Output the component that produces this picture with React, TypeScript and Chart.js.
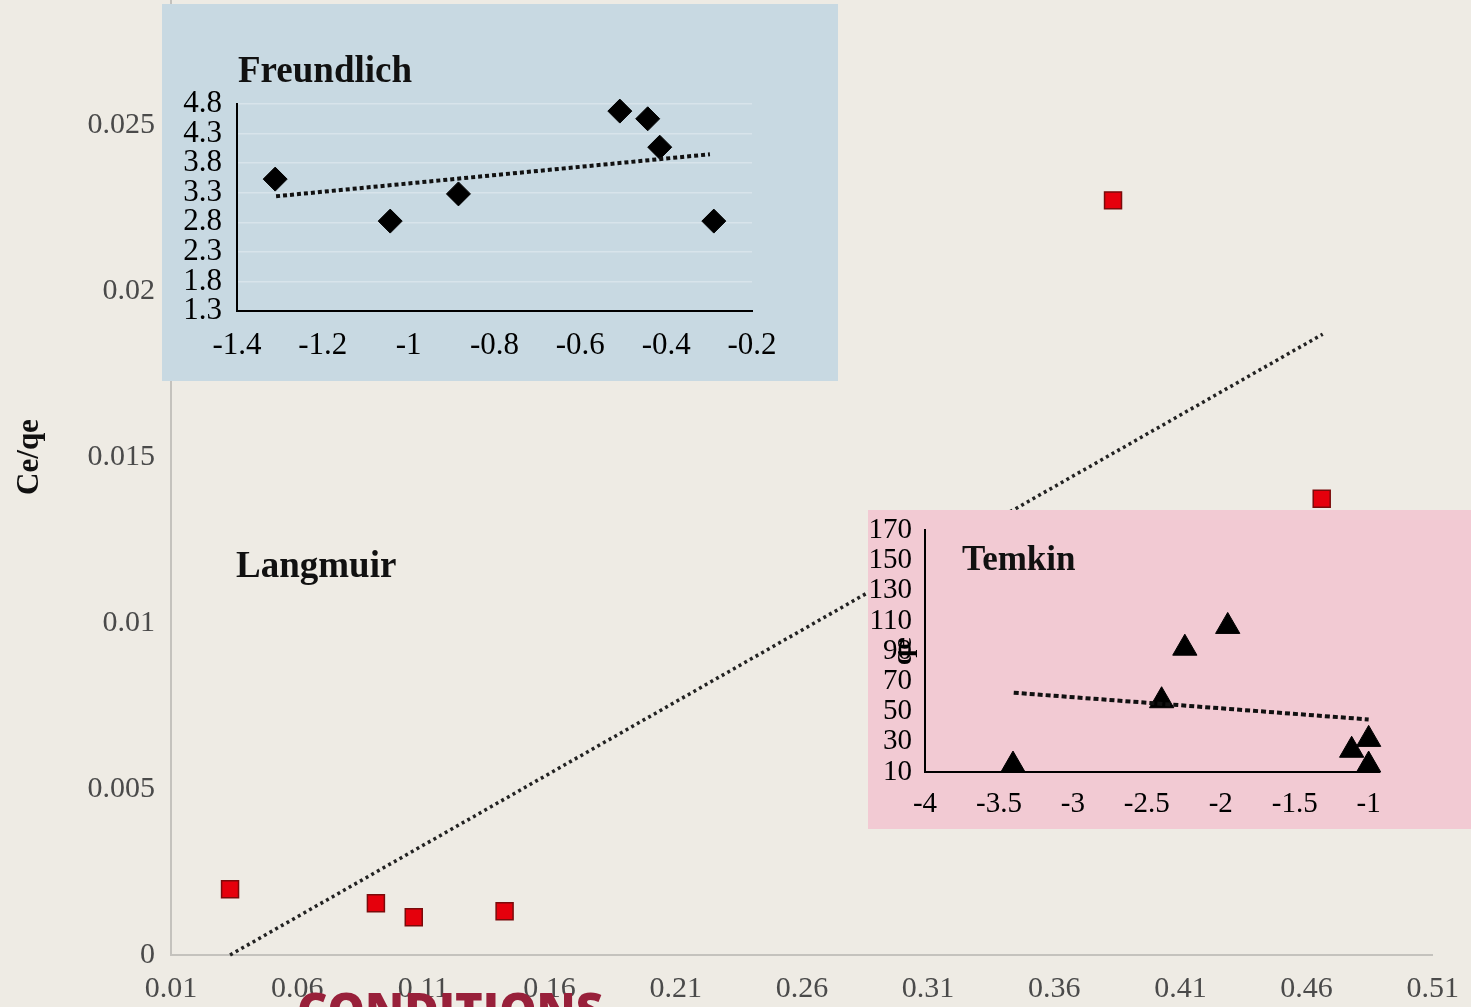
import { useEffect, useRef } from "react";
import { Chart, registerables } from "chart.js";

Chart.register(...registerables);

const SERIF = '"Liberation Serif", "Times New Roman", serif';

// Langmuir isotherm (main plot)
const langmuirX = [0.0334, 0.0912, 0.1062, 0.1422, 0.3833, 0.466];
const langmuirY = [0.00198, 0.00156, 0.00114, 0.00132, 0.02273, 0.01374];
const langmuirTrendX = [0.0334, 0.4664];
const langmuirTrendY = [0.0, 0.0187];
const langmuirXTicks = [0.01, 0.06, 0.11, 0.16, 0.21, 0.26, 0.31, 0.36, 0.41, 0.46, 0.51];
const langmuirYTicks = [0, 0.005, 0.01, 0.015, 0.02, 0.025, 0.03];

// Freundlich isotherm (inset)
const freundlichX = [-1.311, -1.043, -0.884, -0.508, -0.443, -0.415, -0.289];
const freundlichY = [3.53, 2.82, 3.28, 4.68, 4.55, 4.07, 2.82];
const freundlichTrendX = [-1.309, -0.298];
const freundlichTrendY = [3.24, 3.95];
const freundlichXTicks = [-1.4, -1.2, -1, -0.8, -0.6, -0.4, -0.2];
const freundlichYTicks = [1.3, 1.8, 2.3, 2.8, 3.3, 3.8, 4.3, 4.8];

// Temkin isotherm (inset)
const temkinX = [-3.405, -2.4, -2.243, -1.953, -1.115, -1.0, -1.0];
const temkinY = [14.6, 57.2, 92, 106.4, 24.4, 31.6, 14.6];
const temkinTrendX = [-3.4, -1.0];
const temkinTrendY = [62.5, 44.8];
const temkinXTicks = [-4, -3.5, -3, -2.5, -2, -1.5, -1];
const temkinYTicks = [10, 30, 50, 70, 90, 110, 130, 150, 170];

const toPoints = (xs: number[], ys: number[]) => xs.map((x, i) => ({ x, y: ys[i] }));
const fixedTicks = (values: number[]) => (scale: any) => {
  scale.ticks = values.map((value) => ({ value }));
};
const trim = (digits: number) => (v: any) => String(Number(Number(v).toFixed(digits)));

// Draws a bold panel caption at a fixed spot on the canvas
const panelLabel = {
  id: "panelLabel",
  afterDatasetsDraw(chart: any, _args: any, opts: any) {
    if (!opts || !opts.text) return;
    const { ctx } = chart;
    ctx.save();
    ctx.font = `bold ${opts.size}px ${SERIF}`;
    ctx.fillStyle = "#111";
    ctx.textBaseline = "alphabetic";
    ctx.textAlign = "left";
    ctx.fillText(opts.text, opts.x, opts.y);
    ctx.restore();
  },
};
Chart.register(panelLabel);

function useChart(make: (canvas: HTMLCanvasElement) => Chart) {
  const ref = useRef<HTMLCanvasElement | null>(null);
  useEffect(() => {
    if (!ref.current) return;
    const chart = make(ref.current);
    return () => chart.destroy();
  }, []);
  return ref;
}

const MAIN_TOP = -75;
const MAIN_W = 1475;
const MAIN_H = 1082;

function LangmuirChart() {
  const ref = useChart(
    (canvas) =>
      new Chart(canvas, {
        type: "scatter",
        data: {
          datasets: [
            {
              data: toPoints(langmuirTrendX, langmuirTrendY),
              showLine: true,
              borderColor: "#222",
              borderWidth: 3.5,
              borderDash: [3, 3.5],
              pointRadius: 0,
              clip: false,
            },
            {
              data: toPoints(langmuirX, langmuirY),
              pointStyle: "rect",
              pointRadius: 12,
              backgroundColor: "#e5000c",
              borderColor: "#7a0b0b",
              borderWidth: 1.5,
              clip: false,
            },
          ],
        },
        options: {
          animation: false,
          responsive: false,
          events: [],
          layout: { padding: { top: 18, right: 39, left: 0, bottom: 0 } },
          plugins: {
            legend: { display: false },
            tooltip: { enabled: false },
            panelLabel: { text: "Langmuir", x: 236, y: 577 - MAIN_TOP, size: 37 },
          } as any,
          scales: {
            x: {
              type: "linear",
              min: 0.01,
              max: 0.51,
              afterBuildTicks: fixedTicks(langmuirXTicks),
              afterFit: (s: any) => {
                s.height = 52;
              },
              grid: { display: false, drawTicks: false },
              border: { display: true, color: "#c4c2bd", width: 2 },
              ticks: {
                autoSkip: false,
                maxRotation: 0,
                padding: 16,
                color: "#4a4a4a",
                font: { family: SERIF, size: 30 },
                callback: (v: any) => Number(v).toFixed(2),
              },
            },
            y: {
              type: "linear",
              min: 0,
              max: 0.03,
              afterBuildTicks: fixedTicks(langmuirYTicks),
              afterFit: (s: any) => {
                s.width = 171;
              },
              grid: { display: false, drawTicks: false },
              border: { display: true, color: "#c4c2bd", width: 2 },
              title: {
                display: true,
                text: "Ce/qe",
                color: "#111",
                font: { family: SERIF, size: 31, weight: "bold" },
                padding: { top: 11, bottom: 0 },
              },
              ticks: {
                autoSkip: false,
                padding: 16,
                color: "#4a4a4a",
                font: { family: SERIF, size: 30 },
                callback: trim(3),
              },
            },
          },
        },
      })
  );
  return (
    <canvas
      ref={ref}
      width={MAIN_W}
      height={MAIN_H}
      style={{ position: "absolute", left: 0, top: MAIN_TOP, width: MAIN_W, height: MAIN_H }}
    />
  );
}

function FreundlichChart() {
  const ref = useChart(
    (canvas) =>
      new Chart(canvas, {
        type: "scatter",
        data: {
          datasets: [
            {
              data: toPoints(freundlichTrendX, freundlichTrendY),
              showLine: true,
              borderColor: "#111",
              borderWidth: 4,
              borderDash: [4, 3],
              pointRadius: 0,
              clip: false,
            },
            {
              data: toPoints(freundlichX, freundlichY),
              pointStyle: "rectRot",
              pointRadius: 12,
              backgroundColor: "#000",
              borderColor: "#000",
              borderWidth: 1,
              clip: false,
            },
          ],
        },
        options: {
          animation: false,
          responsive: false,
          events: [],
          layout: { padding: { top: 100, right: 86, left: 0, bottom: 0 } },
          plugins: {
            legend: { display: false },
            tooltip: { enabled: false },
            panelLabel: { text: "Freundlich", x: 76, y: 78, size: 37 },
          } as any,
          scales: {
            x: {
              type: "linear",
              min: -1.4,
              max: -0.2,
              afterBuildTicks: fixedTicks(freundlichXTicks),
              afterFit: (s: any) => {
                s.height = 70;
              },
              grid: { display: false, drawTicks: false },
              border: { display: true, color: "#000", width: 2 },
              ticks: {
                autoSkip: false,
                maxRotation: 0,
                padding: 16,
                color: "#000",
                font: { family: SERIF, size: 31 },
                callback: trim(1),
              },
            },
            y: {
              type: "linear",
              min: 1.3,
              max: 4.8,
              afterBuildTicks: fixedTicks(freundlichYTicks),
              afterFit: (s: any) => {
                s.width = 75;
              },
              grid: { display: true, drawTicks: false, color: "rgba(255,255,255,0.3)", lineWidth: 1.5 },
              border: { display: true, color: "#000", width: 2 },
              ticks: {
                autoSkip: false,
                padding: 15,
                color: "#000",
                font: { family: SERIF, size: 31 },
                callback: (v: any) => Number(v).toFixed(1),
              },
            },
          },
        },
      })
  );
  return (
    <div
      style={{
        position: "absolute",
        left: 162,
        top: 4,
        width: 676,
        height: 377,
        background: "#c8d9e2",
      }}
    >
      <canvas ref={ref} width={676} height={377} style={{ display: "block", width: 676, height: 377 }} />
    </div>
  );
}

const TEMKIN_TOP = -10;
const TEMKIN_H = 329;

function TemkinChart() {
  const ref = useChart(
    (canvas) =>
      new Chart(canvas, {
        type: "scatter",
        data: {
          datasets: [
            {
              data: toPoints(temkinTrendX, temkinTrendY),
              showLine: true,
              borderColor: "#111",
              borderWidth: 4,
              borderDash: [5, 3],
              pointRadius: 0,
              clip: false,
            },
            {
              data: toPoints(temkinX, temkinY),
              pointStyle: "triangle",
              pointRadius: 14,
              backgroundColor: "#000",
              borderColor: "#000",
              borderWidth: 1,
              clip: false,
            },
          ],
        },
        options: {
          animation: false,
          responsive: false,
          events: [],
          layout: { padding: { top: 18, right: 92, left: 0, bottom: 0 } },
          plugins: {
            legend: { display: false },
            tooltip: { enabled: false },
            panelLabel: { text: "Temkin", x: 94, y: 60 - TEMKIN_TOP, size: 35 },
          } as any,
          scales: {
            x: {
              type: "linear",
              min: -4,
              max: -0.93,
              afterBuildTicks: fixedTicks(temkinXTicks),
              afterFit: (s: any) => {
                s.height = 57;
              },
              grid: { display: false, drawTicks: false },
              border: { display: true, color: "#000", width: 2 },
              ticks: {
                autoSkip: false,
                maxRotation: 0,
                padding: 15,
                color: "#000",
                font: { family: SERIF, size: 29 },
                callback: trim(1),
              },
            },
            y: {
              type: "linear",
              min: 10,
              max: 170,
              afterBuildTicks: fixedTicks(temkinYTicks),
              afterFit: (s: any) => {
                s.width = 57;
              },
              grid: { display: false, drawTicks: false },
              border: { display: true, color: "#000", width: 2 },
              title: {
                display: true,
                text: "qe",
                color: "#000",
                font: { family: SERIF, size: 28, weight: "bold" },
                padding: { top: 19, bottom: 0 },
              },
              ticks: {
                autoSkip: false,
                padding: 13,
                color: "#000",
                font: { family: SERIF, size: 29 },
                callback: (v: any) => String(v),
              },
            },
          },
        },
      })
  );
  return (
    <div
      style={{
        position: "absolute",
        left: 868,
        top: 510,
        width: 603,
        height: 319,
        background: "#f2cad3",
      }}
    >
      <canvas
        ref={ref}
        width={603}
        height={TEMKIN_H}
        style={{ position: "absolute", left: 0, top: TEMKIN_TOP, width: 603, height: TEMKIN_H }}
      />
    </div>
  );
}

export default function App() {
  return (
    <div
      style={{
        position: "fixed",
        left: 0,
        top: 0,
        width: 1471,
        height: 1007,
        overflow: "hidden",
        background: "#eeebe4",
      }}
    >
      <LangmuirChart />
      <FreundlichChart />
      <TemkinChart />
      <div
        style={{
          position: "absolute",
          left: 297,
          top: 985,
          fontFamily: '"Open Sans", sans-serif',
          fontWeight: 800,
          fontSize: 47,
          lineHeight: "48px",
          color: "#98203a",
          whiteSpace: "nowrap",
        }}
      >
        CONDITIONS
      </div>
    </div>
  );
}
